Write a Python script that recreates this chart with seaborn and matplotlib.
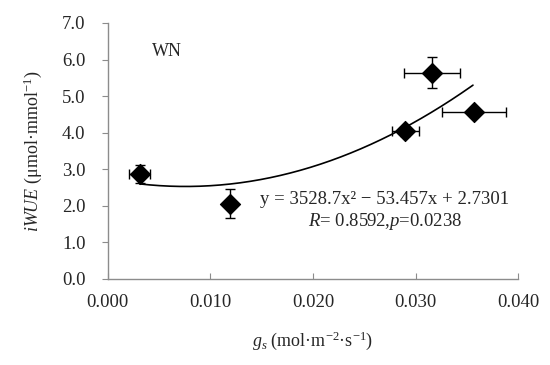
import numpy as np
import pandas as pd
import matplotlib
matplotlib.use("Agg")
import matplotlib.pyplot as plt
import seaborn as sns

# Data
gs = [0.0031, 0.0119, 0.0290, 0.0316, 0.0357]
iwue = [2.87, 2.06, 4.04, 5.64, 4.56]
gs_err = [0.0010, 0.0003, 0.0013, 0.0027, 0.0031]
iwue_err = [0.25, 0.40, 0.12, 0.42, 0.08]

# Quadratic trend line coefficients as printed on the chart
coef = [3528.7, -53.457, 2.7301]
fit_range = [0.0031, 0.0356]

x_ticks = [0.000, 0.010, 0.020, 0.030, 0.040]
y_ticks = [0.0, 1.0, 2.0, 3.0, 4.0, 5.0, 6.0, 7.0]

sns.set_style("white")
plt.rcParams["font.family"] = ["Liberation Serif", "DejaVu Serif"]
plt.rcParams["mathtext.fontset"] = "custom"
plt.rcParams["mathtext.rm"] = "Liberation Serif"
plt.rcParams["mathtext.it"] = "Liberation Serif:italic"

df = pd.DataFrame({"gs": gs, "iwue": iwue})
xs = np.linspace(fit_range[0], fit_range[1], 200)
fit = pd.DataFrame({"gs": xs, "iwue": np.polyval(coef, xs)})

fig = plt.figure(figsize=(5.5, 3.65), dpi=100)
ax = fig.add_axes([0.196, 0.236, 0.746, 0.701])

sns.lineplot(data=fit, x="gs", y="iwue", color="black", linewidth=1.2, ax=ax)
ax.errorbar(gs, iwue, xerr=gs_err, yerr=iwue_err, fmt="none",
            ecolor="black", elinewidth=1.0, capsize=3.5, capthick=1.0)
sns.scatterplot(data=df, x="gs", y="iwue", marker="D", s=105,
                color="black", edgecolor="black", ax=ax, zorder=5)

ax.set_xlim(0, 0.040)
ax.set_ylim(0, 7.0)
ax.set_xticks(x_ticks)
ax.set_xticklabels([f"{t:.3f}" for t in x_ticks])
ax.set_yticks(y_ticks)
ax.set_yticklabels([f"{t:.1f}" for t in y_ticks])

for side in ["top", "right"]:
    ax.spines[side].set_visible(False)
for side in ["left", "bottom"]:
    ax.spines[side].set_color("#8c8c8c")
    ax.spines[side].set_linewidth(1.0)

ax.tick_params(axis="x", direction="in", length=4, color="#8c8c8c",
               labelsize=13.5, pad=11, bottom=True)
ax.tick_params(axis="y", direction="out", length=4, color="#8c8c8c",
               labelsize=13.5, pad=12, left=True)

ax.set_xlabel(r"$g_s$ (mol·m$^{-2}$·s$^{-1}$)", fontsize=13, labelpad=13)
ax.set_ylabel(r"$iWUE$ (μmol·mmol$^{-1}$)", fontsize=13, labelpad=13)

ax.text(0.0058, 6.22, "WN", fontsize=13, ha="center", va="center")
ax.text(0.0270, 2.16, "y = 3528.7x² − 53.457x + 2.7301", fontsize=13.5,
        ha="center", va="center")
ax.text(0.0270, 1.56, r"$R$= 0.8592,$p$=0.0238", fontsize=13.5,
        ha="center", va="center")

fig.savefig("out.png", dpi=100)
